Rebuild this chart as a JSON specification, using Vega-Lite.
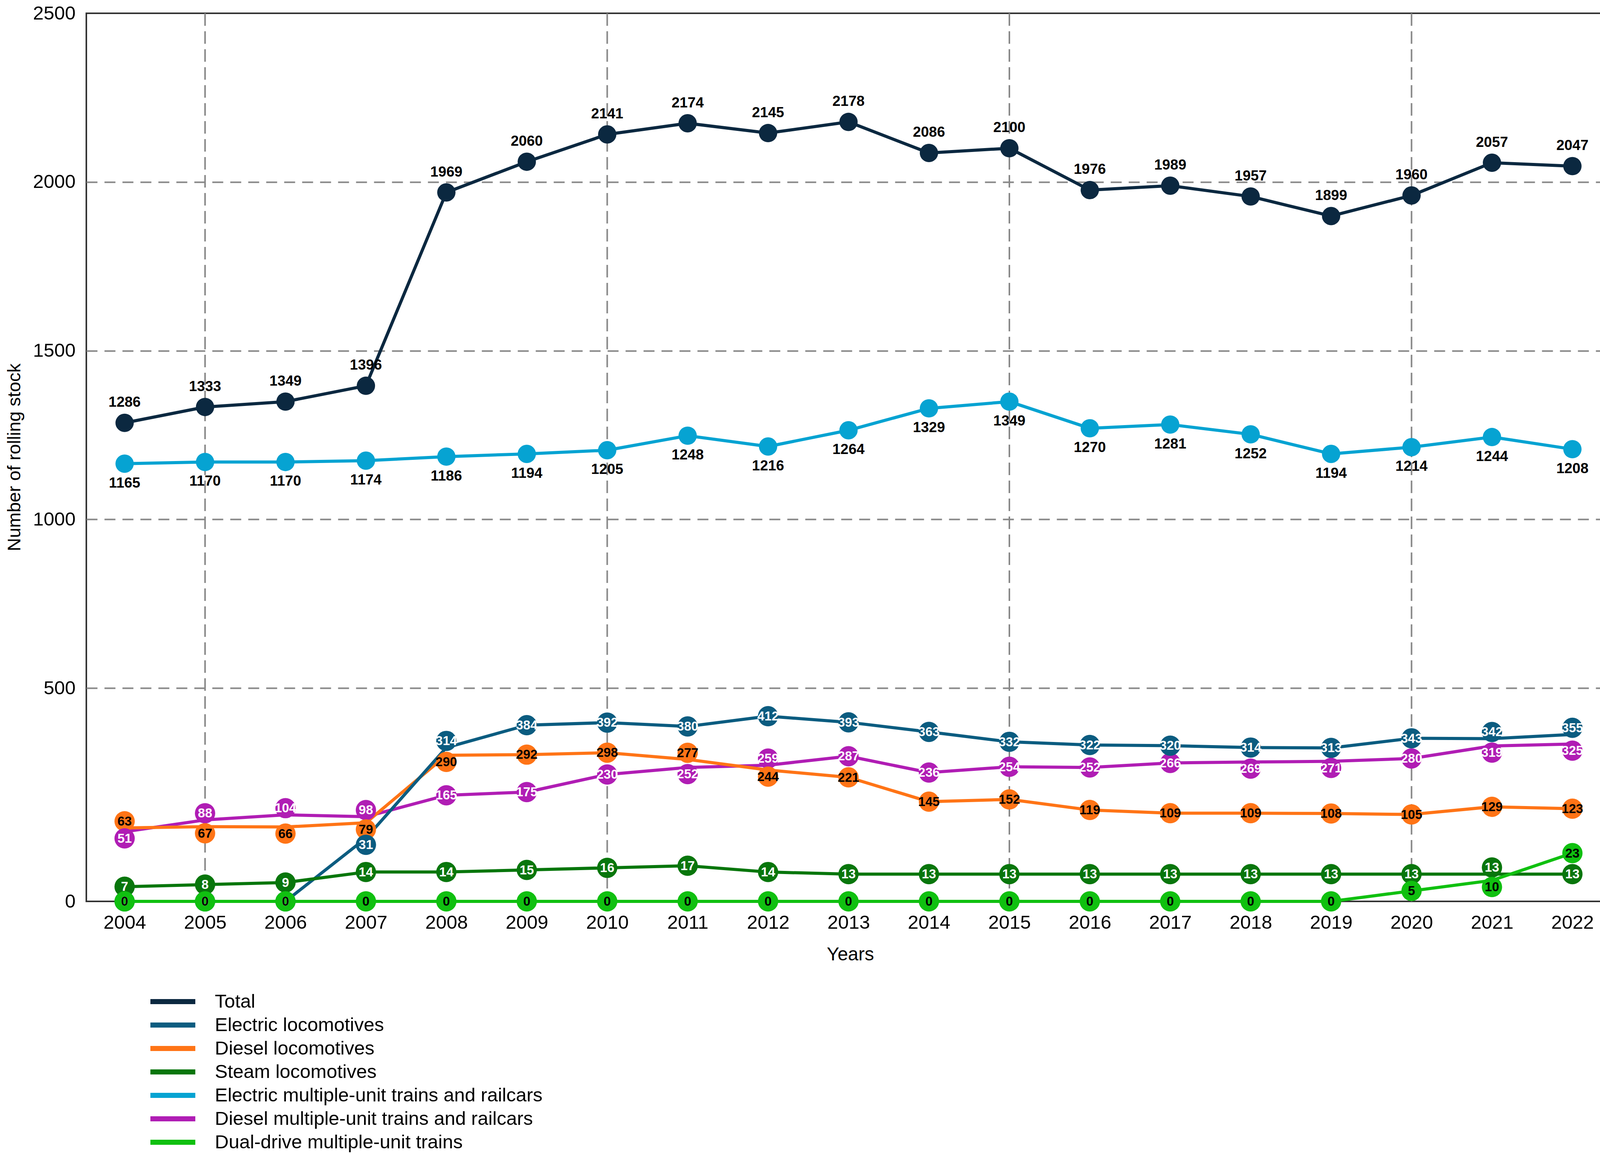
{
  "$schema": "https://vega.github.io/schema/vega-lite/v6.json",
  "width": 3911,
  "height": 2273,
  "autosize": {"type": "none"},
  "padding": {"left": 221, "top": 34, "right": 24, "bottom": 644},
  "background": "white",
  "config": {
    "view": {"stroke": "#333333", "strokeWidth": 4},
    "font": "Liberation Sans"
  },
  "datasets": {
    "rows": [
      {"year": 2004, "series": "Total", "value": 1286}, {"year": 2005, "series": "Total", "value": 1333}, {"year": 2006, "series": "Total", "value": 1349}, {"year": 2007, "series": "Total", "value": 1396}, {"year": 2008, "series": "Total", "value": 1969}, {"year": 2009, "series": "Total", "value": 2060}, {"year": 2010, "series": "Total", "value": 2141}, {"year": 2011, "series": "Total", "value": 2174}, {"year": 2012, "series": "Total", "value": 2145}, {"year": 2013, "series": "Total", "value": 2178}, {"year": 2014, "series": "Total", "value": 2086}, {"year": 2015, "series": "Total", "value": 2100}, {"year": 2016, "series": "Total", "value": 1976}, {"year": 2017, "series": "Total", "value": 1989}, {"year": 2018, "series": "Total", "value": 1957}, {"year": 2019, "series": "Total", "value": 1899}, {"year": 2020, "series": "Total", "value": 1960}, {"year": 2021, "series": "Total", "value": 2057}, {"year": 2022, "series": "Total", "value": 2047},
      {"year": 2004, "series": "Electric multiple-unit trains and railcars", "value": 1165}, {"year": 2005, "series": "Electric multiple-unit trains and railcars", "value": 1170}, {"year": 2006, "series": "Electric multiple-unit trains and railcars", "value": 1170}, {"year": 2007, "series": "Electric multiple-unit trains and railcars", "value": 1174}, {"year": 2008, "series": "Electric multiple-unit trains and railcars", "value": 1186}, {"year": 2009, "series": "Electric multiple-unit trains and railcars", "value": 1194}, {"year": 2010, "series": "Electric multiple-unit trains and railcars", "value": 1205}, {"year": 2011, "series": "Electric multiple-unit trains and railcars", "value": 1248}, {"year": 2012, "series": "Electric multiple-unit trains and railcars", "value": 1216}, {"year": 2013, "series": "Electric multiple-unit trains and railcars", "value": 1264}, {"year": 2014, "series": "Electric multiple-unit trains and railcars", "value": 1329}, {"year": 2015, "series": "Electric multiple-unit trains and railcars", "value": 1349}, {"year": 2016, "series": "Electric multiple-unit trains and railcars", "value": 1270}, {"year": 2017, "series": "Electric multiple-unit trains and railcars", "value": 1281}, {"year": 2018, "series": "Electric multiple-unit trains and railcars", "value": 1252}, {"year": 2019, "series": "Electric multiple-unit trains and railcars", "value": 1194}, {"year": 2020, "series": "Electric multiple-unit trains and railcars", "value": 1214}, {"year": 2021, "series": "Electric multiple-unit trains and railcars", "value": 1244}, {"year": 2022, "series": "Electric multiple-unit trains and railcars", "value": 1208},
      {"year": 2004, "series": "Diesel multiple-unit trains and railcars", "value": 51}, {"year": 2005, "series": "Diesel multiple-unit trains and railcars", "value": 88}, {"year": 2006, "series": "Diesel multiple-unit trains and railcars", "value": 104}, {"year": 2007, "series": "Diesel multiple-unit trains and railcars", "value": 98}, {"year": 2008, "series": "Diesel multiple-unit trains and railcars", "value": 165}, {"year": 2009, "series": "Diesel multiple-unit trains and railcars", "value": 175}, {"year": 2010, "series": "Diesel multiple-unit trains and railcars", "value": 230}, {"year": 2011, "series": "Diesel multiple-unit trains and railcars", "value": 252}, {"year": 2012, "series": "Diesel multiple-unit trains and railcars", "value": 259}, {"year": 2013, "series": "Diesel multiple-unit trains and railcars", "value": 287}, {"year": 2014, "series": "Diesel multiple-unit trains and railcars", "value": 236}, {"year": 2015, "series": "Diesel multiple-unit trains and railcars", "value": 254}, {"year": 2016, "series": "Diesel multiple-unit trains and railcars", "value": 252}, {"year": 2017, "series": "Diesel multiple-unit trains and railcars", "value": 266}, {"year": 2018, "series": "Diesel multiple-unit trains and railcars", "value": 269}, {"year": 2019, "series": "Diesel multiple-unit trains and railcars", "value": 271}, {"year": 2020, "series": "Diesel multiple-unit trains and railcars", "value": 280}, {"year": 2021, "series": "Diesel multiple-unit trains and railcars", "value": 319}, {"year": 2022, "series": "Diesel multiple-unit trains and railcars", "value": 325},
      {"year": 2004, "series": "Diesel locomotives", "value": 63}, {"year": 2005, "series": "Diesel locomotives", "value": 67}, {"year": 2006, "series": "Diesel locomotives", "value": 66}, {"year": 2007, "series": "Diesel locomotives", "value": 79}, {"year": 2008, "series": "Diesel locomotives", "value": 290}, {"year": 2009, "series": "Diesel locomotives", "value": 292}, {"year": 2010, "series": "Diesel locomotives", "value": 298}, {"year": 2011, "series": "Diesel locomotives", "value": 277}, {"year": 2012, "series": "Diesel locomotives", "value": 244}, {"year": 2013, "series": "Diesel locomotives", "value": 221}, {"year": 2014, "series": "Diesel locomotives", "value": 145}, {"year": 2015, "series": "Diesel locomotives", "value": 152}, {"year": 2016, "series": "Diesel locomotives", "value": 119}, {"year": 2017, "series": "Diesel locomotives", "value": 109}, {"year": 2018, "series": "Diesel locomotives", "value": 109}, {"year": 2019, "series": "Diesel locomotives", "value": 108}, {"year": 2020, "series": "Diesel locomotives", "value": 105}, {"year": 2021, "series": "Diesel locomotives", "value": 129}, {"year": 2022, "series": "Diesel locomotives", "value": 123},
      {"year": 2004, "series": "Electric locomotives", "value": 0}, {"year": 2005, "series": "Electric locomotives", "value": 0}, {"year": 2006, "series": "Electric locomotives", "value": 0}, {"year": 2007, "series": "Electric locomotives", "value": 31}, {"year": 2008, "series": "Electric locomotives", "value": 314}, {"year": 2009, "series": "Electric locomotives", "value": 384}, {"year": 2010, "series": "Electric locomotives", "value": 392}, {"year": 2011, "series": "Electric locomotives", "value": 380}, {"year": 2012, "series": "Electric locomotives", "value": 412}, {"year": 2013, "series": "Electric locomotives", "value": 393}, {"year": 2014, "series": "Electric locomotives", "value": 363}, {"year": 2015, "series": "Electric locomotives", "value": 332}, {"year": 2016, "series": "Electric locomotives", "value": 322}, {"year": 2017, "series": "Electric locomotives", "value": 320}, {"year": 2018, "series": "Electric locomotives", "value": 314}, {"year": 2019, "series": "Electric locomotives", "value": 313}, {"year": 2020, "series": "Electric locomotives", "value": 343}, {"year": 2021, "series": "Electric locomotives", "value": 342}, {"year": 2022, "series": "Electric locomotives", "value": 355},
      {"year": 2004, "series": "Steam locomotives", "value": 7}, {"year": 2005, "series": "Steam locomotives", "value": 8}, {"year": 2006, "series": "Steam locomotives", "value": 9}, {"year": 2007, "series": "Steam locomotives", "value": 14}, {"year": 2008, "series": "Steam locomotives", "value": 14}, {"year": 2009, "series": "Steam locomotives", "value": 15}, {"year": 2010, "series": "Steam locomotives", "value": 16}, {"year": 2011, "series": "Steam locomotives", "value": 17}, {"year": 2012, "series": "Steam locomotives", "value": 14}, {"year": 2013, "series": "Steam locomotives", "value": 13}, {"year": 2014, "series": "Steam locomotives", "value": 13}, {"year": 2015, "series": "Steam locomotives", "value": 13}, {"year": 2016, "series": "Steam locomotives", "value": 13}, {"year": 2017, "series": "Steam locomotives", "value": 13}, {"year": 2018, "series": "Steam locomotives", "value": 13}, {"year": 2019, "series": "Steam locomotives", "value": 13}, {"year": 2020, "series": "Steam locomotives", "value": 13}, {"year": 2021, "series": "Steam locomotives", "value": 13}, {"year": 2022, "series": "Steam locomotives", "value": 13},
      {"year": 2004, "series": "Dual-drive multiple-unit trains", "value": 0}, {"year": 2005, "series": "Dual-drive multiple-unit trains", "value": 0}, {"year": 2006, "series": "Dual-drive multiple-unit trains", "value": 0}, {"year": 2007, "series": "Dual-drive multiple-unit trains", "value": 0}, {"year": 2008, "series": "Dual-drive multiple-unit trains", "value": 0}, {"year": 2009, "series": "Dual-drive multiple-unit trains", "value": 0}, {"year": 2010, "series": "Dual-drive multiple-unit trains", "value": 0}, {"year": 2011, "series": "Dual-drive multiple-unit trains", "value": 0}, {"year": 2012, "series": "Dual-drive multiple-unit trains", "value": 0}, {"year": 2013, "series": "Dual-drive multiple-unit trains", "value": 0}, {"year": 2014, "series": "Dual-drive multiple-unit trains", "value": 0}, {"year": 2015, "series": "Dual-drive multiple-unit trains", "value": 0}, {"year": 2016, "series": "Dual-drive multiple-unit trains", "value": 0}, {"year": 2017, "series": "Dual-drive multiple-unit trains", "value": 0}, {"year": 2018, "series": "Dual-drive multiple-unit trains", "value": 0}, {"year": 2019, "series": "Dual-drive multiple-unit trains", "value": 0}, {"year": 2020, "series": "Dual-drive multiple-unit trains", "value": 5}, {"year": 2021, "series": "Dual-drive multiple-unit trains", "value": 10}, {"year": 2022, "series": "Dual-drive multiple-unit trains", "value": 23}
    ],
    "gridYears": [{"year": 2005}, {"year": 2010}, {"year": 2015}, {"year": 2020}]
  },
  "layer": [
    {
      "data": {"name": "gridYears"},
      "mark": {"type": "rule", "stroke": "#888888", "strokeWidth": 4, "strokeDash": [32, 14]},
      "encoding": {
        "x": {"field": "year", "type": "quantitative", "scale": {"domain": [2003.524, 2022.518], "nice": false, "zero": false},
          "axis": {"values": [2004, 2005, 2006, 2007, 2008, 2009, 2010, 2011, 2012, 2013, 2014, 2015, 2016, 2017, 2018, 2019, 2020, 2021, 2022], "format": "d", "grid": false, "ticks": false, "domain": false, "labelFontSize": 49, "labelColor": "black", "labelPadding": 30, "title": "Years", "titleFontSize": 48, "titleFontWeight": "normal", "titleColor": "black", "titleY": 136, "titleBaseline": "middle"}}
      }
    },
    {
      "data": {"name": "rows"},
      "layer": [
        {
          "mark": {"type": "line", "strokeWidth": 8, "strokeJoin": "round"},
          "encoding": {
            "x": {"field": "year", "type": "quantitative"},
            "y": {"field": "value", "type": "quantitative",
              "scale": {"domain": [0, 30, 500, 2500], "range": [2273, 2112, 1727, 0], "nice": false, "zero": false},
              "axis": {"values": [0, 500, 1000, 1500, 2000, 2500], "format": "d", "grid": true, "gridColor": "#888888", "gridWidth": 4, "gridDash": [28, 18],
                "gridOpacity": {"condition": {"test": "datum.value === 0 || datum.value === 2500", "value": 0}, "value": 1},
                "ticks": false, "domain": false, "labelFontSize": 49, "labelColor": "black", "labelPadding": 28,
                "title": "Number of rolling stock", "titleFontSize": 47, "titleFontWeight": "normal", "titleColor": "black", "titleX": -184, "titleY": 1136, "titleBaseline": "middle", "titleAngle": -90}},
            "color": {"field": "series", "type": "nominal",
              "scale": {"domain": ["Total", "Electric locomotives", "Diesel locomotives", "Steam locomotives", "Electric multiple-unit trains and railcars", "Diesel multiple-unit trains and railcars", "Dual-drive multiple-unit trains"],
                "range": ["#0b2840", "#0b5c80", "#ff7416", "#08760c", "#06a3d2", "#b01db4", "#10c010"]},
              "legend": {"orient": "none", "legendX": 192, "legendY": 2500, "direction": "vertical", "title": null, "symbolType": "M-2.5,0H2.5", "symbolStrokeWidth": 13, "symbolSize": 2116, "labelFontSize": 49, "labelColor": "black", "labelOffset": 78, "rowPadding": 4, "padding": 0, "labelLimit": 3000}},
            "detail": {"field": "series"}
          }
        },
        {
          "transform": [{"filter": "datum.series === 'Total' || datum.series === 'Electric multiple-unit trains and railcars'"}],
          "mark": {"type": "point", "shape": "circle", "filled": true, "opacity": 1, "size": 2200},
          "encoding": {
            "x": {"field": "year", "type": "quantitative"},
            "y": {"field": "value", "type": "quantitative"},
            "fill": {"field": "series", "type": "nominal", "legend": null,
              "scale": {"domain": ["Total", "Electric locomotives", "Diesel locomotives", "Steam locomotives", "Electric multiple-unit trains and railcars", "Diesel multiple-unit trains and railcars", "Dual-drive multiple-unit trains"],
                "range": ["#0b2840", "#0b5c80", "#ff7416", "#08760c", "#06a3d2", "#b01db4", "#10c010"]}}
          }
        },
        {
          "transform": [{"filter": "datum.series === 'Total'"}],
          "mark": {"type": "text", "font": "Liberation Sans", "fontWeight": "bold", "fontSize": 37, "align": "center", "baseline": "middle", "dy": -52, "color": "black"},
          "encoding": {
            "x": {"field": "year", "type": "quantitative"},
            "y": {"field": "value", "type": "quantitative"},
            "text": {"field": "value", "type": "quantitative", "format": "d"}
          }
        },
        {
          "transform": [{"filter": "datum.series === 'Electric multiple-unit trains and railcars'"}],
          "mark": {"type": "text", "font": "Liberation Sans", "fontWeight": "bold", "fontSize": 37, "align": "center", "baseline": "middle", "dy": 50, "color": "black"},
          "encoding": {
            "x": {"field": "year", "type": "quantitative"},
            "y": {"field": "value", "type": "quantitative"},
            "text": {"field": "value", "type": "quantitative", "format": "d"}
          }
        },
        {
          "transform": [
            {"filter": "datum.series !== 'Total' && datum.series !== 'Electric multiple-unit trains and railcars'"},
            {"window": [{"op": "lag", "field": "value", "as": "below"}, {"op": "lead", "field": "value", "as": "above"}], "groupby": ["year"], "sort": [{"field": "value", "order": "ascending"}]}
          ],
          "layer": [
            {
              "transform": [{"filter": "!(datum.below != null && datum.below > 0 && ((datum.below >= 30 && datum.value - datum.below < 40) || (datum.value < 30 && datum.value - datum.below < 5))) && !(datum.above != null && datum.value > 0 && ((datum.value >= 30 && datum.above - datum.value < 50) || (datum.above < 30 && datum.above - datum.value < 5)))"}],
              "mark": {"type": "point", "shape": "circle", "filled": true, "opacity": 1, "size": 2700},
              "encoding": {
                "x": {"field": "year", "type": "quantitative"},
                "y": {"field": "value", "type": "quantitative"},
                "fill": {"field": "series", "type": "nominal", "legend": null}
              }
            },
            {
              "transform": [{"filter": "datum.below != null && datum.below > 0 && ((datum.below >= 30 && datum.value - datum.below < 40) || (datum.value < 30 && datum.value - datum.below < 5))"}],
              "mark": {"type": "point", "shape": "circle", "filled": true, "opacity": 1, "size": 2700, "yOffset": -17},
              "encoding": {
                "x": {"field": "year", "type": "quantitative"},
                "y": {"field": "value", "type": "quantitative"},
                "fill": {"field": "series", "type": "nominal", "legend": null}
              }
            },
            {
              "transform": [{"filter": "!(datum.below != null && datum.below > 0 && ((datum.below >= 30 && datum.value - datum.below < 40) || (datum.value < 30 && datum.value - datum.below < 5))) && (datum.above != null && datum.value > 0 && ((datum.value >= 30 && datum.above - datum.value < 50) || (datum.above < 30 && datum.above - datum.value < 5)))"}],
              "mark": {"type": "point", "shape": "circle", "filled": true, "opacity": 1, "size": 2700, "yOffset": 17},
              "encoding": {
                "x": {"field": "year", "type": "quantitative"},
                "y": {"field": "value", "type": "quantitative"},
                "fill": {"field": "series", "type": "nominal", "legend": null}
              }
            },
            {
              "transform": [{"filter": "!(datum.below != null && datum.below > 0 && ((datum.below >= 30 && datum.value - datum.below < 40) || (datum.value < 30 && datum.value - datum.below < 5))) && !(datum.above != null && datum.value > 0 && ((datum.value >= 30 && datum.above - datum.value < 50) || (datum.above < 30 && datum.above - datum.value < 5)))"}],
              "mark": {"type": "text", "font": "Liberation Sans", "fontWeight": "bold", "fontSize": 33, "align": "center", "baseline": "middle", "dy": 1},
              "encoding": {
                "x": {"field": "year", "type": "quantitative"},
                "y": {"field": "value", "type": "quantitative"},
                "text": {"field": "value", "type": "quantitative", "format": "d"},
                "color": {"condition": {"test": "datum.series === 'Electric locomotives' || datum.series === 'Steam locomotives' || datum.series === 'Diesel multiple-unit trains and railcars'", "value": "white"}, "value": "black"}
              }
            },
            {
              "transform": [{"filter": "datum.below != null && datum.below > 0 && ((datum.below >= 30 && datum.value - datum.below < 40) || (datum.value < 30 && datum.value - datum.below < 5))"}],
              "mark": {"type": "text", "font": "Liberation Sans", "fontWeight": "bold", "fontSize": 33, "align": "center", "baseline": "middle", "dy": -16},
              "encoding": {
                "x": {"field": "year", "type": "quantitative"},
                "y": {"field": "value", "type": "quantitative"},
                "text": {"field": "value", "type": "quantitative", "format": "d"},
                "color": {"condition": {"test": "datum.series === 'Electric locomotives' || datum.series === 'Steam locomotives' || datum.series === 'Diesel multiple-unit trains and railcars'", "value": "white"}, "value": "black"}
              }
            },
            {
              "transform": [{"filter": "!(datum.below != null && datum.below > 0 && ((datum.below >= 30 && datum.value - datum.below < 40) || (datum.value < 30 && datum.value - datum.below < 5))) && (datum.above != null && datum.value > 0 && ((datum.value >= 30 && datum.above - datum.value < 50) || (datum.above < 30 && datum.above - datum.value < 5)))"}],
              "mark": {"type": "text", "font": "Liberation Sans", "fontWeight": "bold", "fontSize": 33, "align": "center", "baseline": "middle", "dy": 18},
              "encoding": {
                "x": {"field": "year", "type": "quantitative"},
                "y": {"field": "value", "type": "quantitative"},
                "text": {"field": "value", "type": "quantitative", "format": "d"},
                "color": {"condition": {"test": "datum.series === 'Electric locomotives' || datum.series === 'Steam locomotives' || datum.series === 'Diesel multiple-unit trains and railcars'", "value": "white"}, "value": "black"}
              }
            }
          ]
        }
      ]
    }
  ]
}
